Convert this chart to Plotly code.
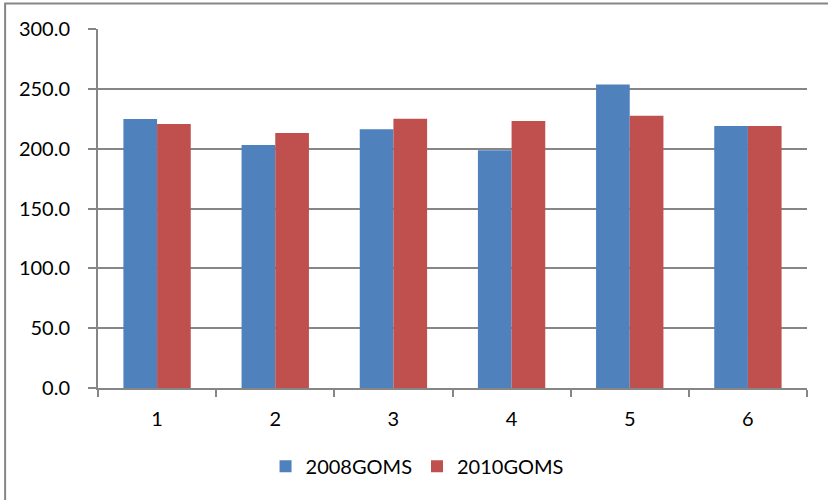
import plotly.graph_objects as go

categories = ["1", "2", "3", "4", "5", "6"]
goms_2008 = [224.8, 203.1, 216.2, 198.6, 253.6, 219.0]
goms_2010 = [220.6, 213.1, 225.1, 223.2, 227.6, 219.0]
y_ticks = [0, 50, 100, 150, 200, 250, 300]
y_tick_labels = ["0.0", "50.0", "100.0", "150.0", "200.0", "250.0", "300.0"]

GRID = "#868686"
FONT = "Lato, 'Open Sans', sans-serif"

fig = go.Figure()
fig.add_trace(go.Bar(name="2008GOMS", x=categories, y=goms_2008,
                     marker=dict(color="#4F81BD", line=dict(width=0))))
fig.add_trace(go.Bar(name="2010GOMS", x=categories, y=goms_2010,
                     marker=dict(color="#C0504D", line=dict(width=0))))

fig.update_layout(
    width=828, height=500,
    margin=dict(l=98, r=21, t=29, b=112),
    paper_bgcolor="white", plot_bgcolor="white",
    barmode="group", bargap=0.43, bargroupgap=0,
    font=dict(family=FONT, size=20, color="#000000"),
    showlegend=True,
    legend=dict(orientation="h", x=0.45, xanchor="center", y=-0.218, yanchor="middle",
                font=dict(size=20), itemwidth=30, tracegroupgap=0,
                bgcolor="rgba(0,0,0,0)"),
    xaxis=dict(type="category", showgrid=False, showline=True, linecolor=GRID, linewidth=2,
               ticks="outside", tickson="boundaries", ticklen=7, tickwidth=2, tickcolor=GRID,
               ticklabelstandoff=12, zeroline=False),
    yaxis=dict(range=[0, 300], tickvals=y_ticks, ticktext=y_tick_labels,
               showgrid=True, gridcolor=GRID, gridwidth=2,
               showline=True, linecolor=GRID, linewidth=2,
               ticks="outside", ticklen=8, tickwidth=2, tickcolor=GRID,
               ticklabelstandoff=14, zeroline=False),
    shapes=[dict(type="rect", xref="paper", yref="paper",
                 x0=-0.131, x1=1.04, y0=-0.33, y1=1.071,
                 line=dict(color=GRID, width=2), fillcolor="rgba(0,0,0,0)", layer="below")],
)

fig.write_html("out.html")
